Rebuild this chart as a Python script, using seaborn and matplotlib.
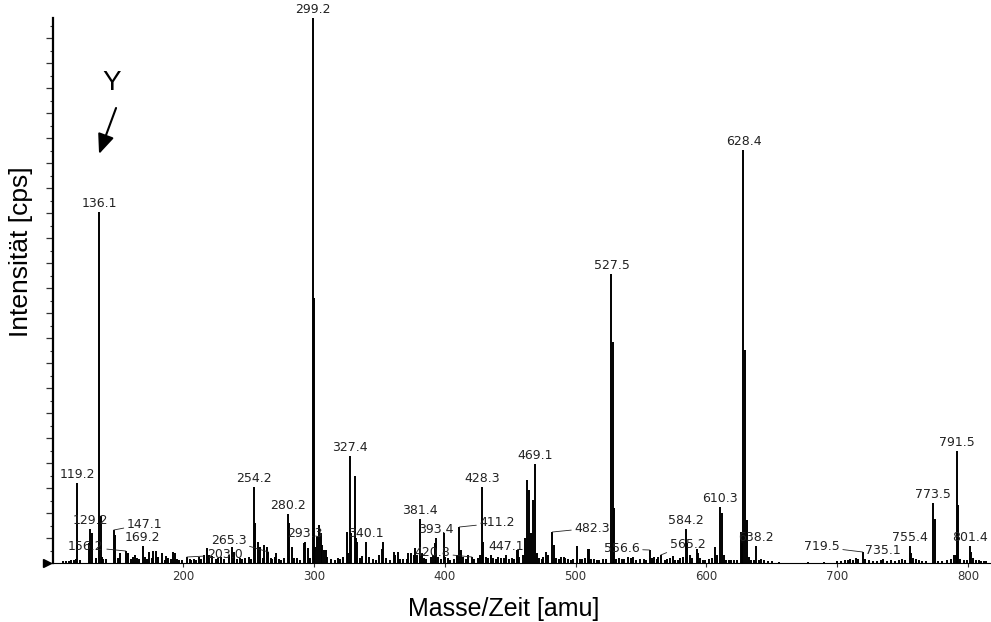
import matplotlib
matplotlib.use("Agg")
import matplotlib.pyplot as plt
from matplotlib.ticker import MultipleLocator, NullFormatter
import seaborn as sns

# stick spectrum: m/z [amu] and intensity (arbitrary units, 25 = one major y tick)
mz = [
    108.5, 110.5, 112.5, 114.5, 116.5, 118.2, 119.2, 121.2, 128.2, 129.2, 130.2, 133.1, 136.1, 137.1,
    138.1, 139.2, 141.1, 147.1, 148.1, 150.1, 152.1, 156.2, 158.1, 160.2, 162.1, 163.2, 165.1, 166.2,
    169.2, 171.1, 172.2, 174.1, 176.2, 177.1, 179.2, 181.1, 184.2, 186.1, 187.1, 188.2, 191.1, 192.2,
    194.1, 195.2, 197.1, 199.2, 203.0, 205.1, 206.2, 208.1,
    210.2, 212.1, 214.1, 216.2, 218.1, 220.2, 222.1, 225.2, 227.1, 229.2, 231.1, 235.2, 237.1, 239.2,
    241.1, 243.2, 245.1, 247.2, 250.1, 252.2, 254.2, 255.2, 257.2, 259.1, 261.2, 262.2, 264.1, 265.3,
    267.2, 268.1, 270.2, 271.2, 273.1, 275.2, 277.1, 280.2, 281.2, 283.2, 285.1, 287.2, 289.1, 292.2,
    293.3, 295.2, 297.1, 299.2, 300.2, 301.2, 302.3, 304.1, 305.2, 306.2, 308.1, 309.2, 310.1, 313.2,
    316.1, 318.2, 320.1, 322.2, 325.2, 326.2,
    327.4, 328.4, 331.4, 332.4, 333.3, 335.2, 337.1, 340.1, 342.2, 345.1, 347.2, 350.1, 352.2, 353.2,
    355.1, 358.2, 361.1, 362.2, 364.2, 366.1, 368.2, 371.1, 372.2, 374.1, 376.2, 377.2, 379.1, 381.4,
    382.4, 384.2, 386.1, 389.2, 391.2, 392.3, 393.4, 395.2, 397.1, 399.5, 400.3, 402.2, 404.1, 407.2,
    409.3, 411.2, 412.2, 414.1, 416.2, 418.1, 420.8, 422.2, 425.2, 427.3, 428.3, 429.3, 431.2, 433.1,
    435.2, 437.1, 439.2,
    441.1, 443.2, 445.1, 447.1, 449.2, 451.1, 453.2, 455.1, 456.2, 457.1, 460.2, 461.2, 463.2, 464.7,
    466.2, 467.8, 469.1, 470.2, 472.1, 474.2, 475.3, 477.1, 479.2, 482.3, 483.3, 485.2, 487.1, 489.2,
    491.2, 492.3, 494.1, 496.2, 498.1, 501.2, 503.1, 505.2, 507.1, 509.2, 510.2, 512.1, 514.2, 516.1,
    518.2, 521.1, 523.2, 527.5, 528.5, 529.5, 531.2, 533.1, 535.2, 537.1,
    540.2, 542.1, 544.2, 546.1, 549.2, 552.1, 554.2, 556.6, 558.2, 560.1, 562.2, 563.1, 565.2, 568.1,
    570.2, 572.3, 574.5, 576.2, 578.1, 580.2, 582.1, 584.2, 585.5, 587.2, 589.1, 592.6, 593.5, 595.2,
    597.1, 599.2, 602.1, 604.2, 606.7, 608.2, 610.3, 612.2, 613.3, 615.2, 617.1, 619.2, 621.1, 623.2,
    626.5, 627.5, 628.4, 629.5, 631.2, 632.3, 634.2, 636.1, 638.2, 640.2, 642.1, 644.2, 647.1, 650.2,
    655.2, 677.7, 690.1, 700.2, 703.2, 706.1, 708.2, 710.1, 712.2, 714.1, 716.2, 719.5, 721.2, 724.1,
    727.2, 730.1, 733.2, 735.1, 738.2, 741.1, 744.2, 747.1, 749.2, 752.1, 755.4, 756.4, 758.2, 760.1,
    762.2, 765.1, 768.2, 773.5, 774.5, 777.2, 780.1, 784.2, 787.1, 789.5, 790.5, 791.5, 792.5, 794.2,
    797.2, 799.1, 801.4, 802.4, 804.2, 806.1, 808.2, 810.1, 812.2, 814.1,
]
intensity = [
    2, 2, 2, 3, 3, 4, 80, 3, 20, 34, 30, 5, 351, 47,
    6, 4, 4, 33, 28, 5, 10, 12, 10, 4, 6, 8, 5, 4,
    17, 6, 4, 11, 5, 12, 12, 6, 10, 3, 7, 5, 4, 11,
    10, 4, 3, 3, 6, 4, 3, 4,
    3, 6, 4, 8, 15, 8, 7, 4, 5, 6, 4, 8, 16, 11,
    4, 5, 4, 5, 6, 4, 76, 40, 21, 16, 5, 18, 16, 11,
    5, 4, 6, 10, 4, 3, 5, 49, 40, 16, 5, 5, 3, 20,
    21, 15, 5, 545, 265, 16, 26, 38, 30, 18, 13, 13, 6, 4,
    3, 5, 4, 6, 31, 10,
    107, 30, 87, 25, 21, 5, 7, 21, 6, 4, 3, 8, 14, 21,
    5, 3, 11, 8, 11, 4, 4, 4, 10, 10, 8, 15, 8, 44,
    10, 5, 4, 6, 8, 20, 25, 6, 4, 30, 6, 5, 3, 4,
    8, 36, 13, 6, 4, 8, 6, 4, 5, 8, 76, 21, 6, 5,
    8, 5, 4,
    6, 5, 5, 8, 4, 5, 4, 13, 13, 6, 8, 25, 83, 73,
    30, 63, 99, 10, 5, 4, 6, 11, 8, 31, 18, 5, 4, 6,
    6, 5, 4, 3, 4, 17, 4, 4, 5, 14, 14, 4, 4, 3,
    3, 4, 4, 289, 221, 55, 4, 5, 4, 4,
    6, 5, 6, 3, 4, 4, 3, 13, 5, 6, 4, 6, 8, 3,
    4, 5, 7, 3, 3, 5, 6, 34, 20, 8, 5, 14, 10, 5,
    3, 3, 4, 5, 16, 8, 56, 50, 8, 3, 3, 3, 3, 3,
    31, 20, 413, 213, 43, 6, 3, 3, 17, 3, 4, 3, 2, 2,
    1, 1, 1, 2, 2, 3, 3, 4, 3, 5, 4, 11, 4, 3,
    2, 2, 3, 4, 2, 3, 2, 3, 4, 3, 17, 10, 5, 4,
    3, 2, 2, 60, 44, 2, 2, 3, 4, 8, 8, 112, 58, 4,
    3, 3, 17, 11, 5, 3, 3, 2, 2, 2,
]

# peaks that carry a plain label right above them
plain_labels = ["119.2", "129.2", "136.1", "169.2", "254.2", "280.2", "293.3", "299.2", "327.4",
                "340.1", "381.4", "393.4", "428.3", "447.1", "469.1", "527.5", "584.2", "610.3",
                "628.4", "638.2", "735.1", "755.4", "773.5", "791.5", "801.4"]
# labels moved aside with a leader line: label centre offset from the peak top in pixels
leader_labels = {
    "147.1": (31, 6), "156.2": (-40, 4), "203.0": (38, 2), "265.3": (-40, 12),
    "420.8": (-40, 4), "411.2": (38, 4), "482.3": (40, 4), "556.6": (-28, 1),
    "565.2": (27, 11), "719.5": (-41, 5),
}

sns.set_theme(style="ticks")
plt.rcParams["font.family"] = ["Liberation Sans", "DejaVu Sans"]

fig = plt.figure(figsize=(9.91, 6.22), dpi=100)
ax = fig.add_axes([53 / 991, 59 / 622, 938 / 991, 545 / 622])

ax.vlines(mz, 0, intensity, colors="black", linewidth=1.4)

ax.set_xlim(100.6, 817.6)
ax.set_ylim(0, 545)
ax.xaxis.set_major_locator(MultipleLocator(100))
ax.yaxis.set_major_locator(MultipleLocator(25))
ax.yaxis.set_minor_locator(MultipleLocator(12.5))
ax.yaxis.set_major_formatter(NullFormatter())
ax.tick_params(axis="x", direction="out", length=3, width=0.8, color="#333333",
               labelsize=8.5, labelcolor="#333333", pad=2)
ax.tick_params(axis="y", which="major", direction="out", length=5, width=0.9, color="#333333")
ax.tick_params(axis="y", which="minor", direction="out", length=2.5, width=0.8, color="#333333")
for lab in ax.get_xticklabels():
    lab.set_family("DejaVu Sans")

sns.despine(ax=ax, top=True, right=True)
ax.spines["left"].set_linewidth(1.6)
ax.spines["left"].set_color("black")
ax.spines["bottom"].set_linewidth(0.8)
ax.spines["bottom"].set_color("black")

# small start marker at the origin
ax.plot([-0.006], [0], marker=">", color="black", markersize=6,
        transform=ax.get_yaxis_transform(), clip_on=False)

height = dict(zip(mz, intensity))
lab_kw = dict(fontsize=9, color="#222222", family="DejaVu Sans", clip_on=False)
for s in plain_labels:
    m = float(s)
    ax.annotate(s, xy=(m, height[m]), xytext=(0, 1.5), textcoords="offset points",
                ha="center", va="bottom", **lab_kw)
for s, (dx, dy) in leader_labels.items():
    m = float(s)
    ax.annotate(s, xy=(m, height[m]), xytext=(dx * 0.72, dy * 0.72), textcoords="offset points",
                ha="center", va="center",
                arrowprops=dict(arrowstyle="-", color="#222222", lw=0.6, shrinkA=0, shrinkB=0),
                **lab_kw)

# "Y" marker with arrow pointing at the 136 peak
ax.text(145.2, 480, "Y", fontsize=20, ha="center", va="center", color="black")
ax.annotate("", xy=(135.8, 409), xytext=(148.8, 455),
            arrowprops=dict(arrowstyle="-|>,head_length=0.6,head_width=0.25", color="black",
                            lw=1.5, mutation_scale=20, shrinkA=0, shrinkB=0))

ax.set_xlabel("Masse/Zeit [amu]", fontsize=18, color="black")
ax.set_ylabel("Intensität [cps]", fontsize=19, color="black")
ax.xaxis.set_label_coords(0.481, -0.062)
ax.yaxis.set_label_coords(-0.021, 0.571)

fig.savefig("out.png", dpi=100)
